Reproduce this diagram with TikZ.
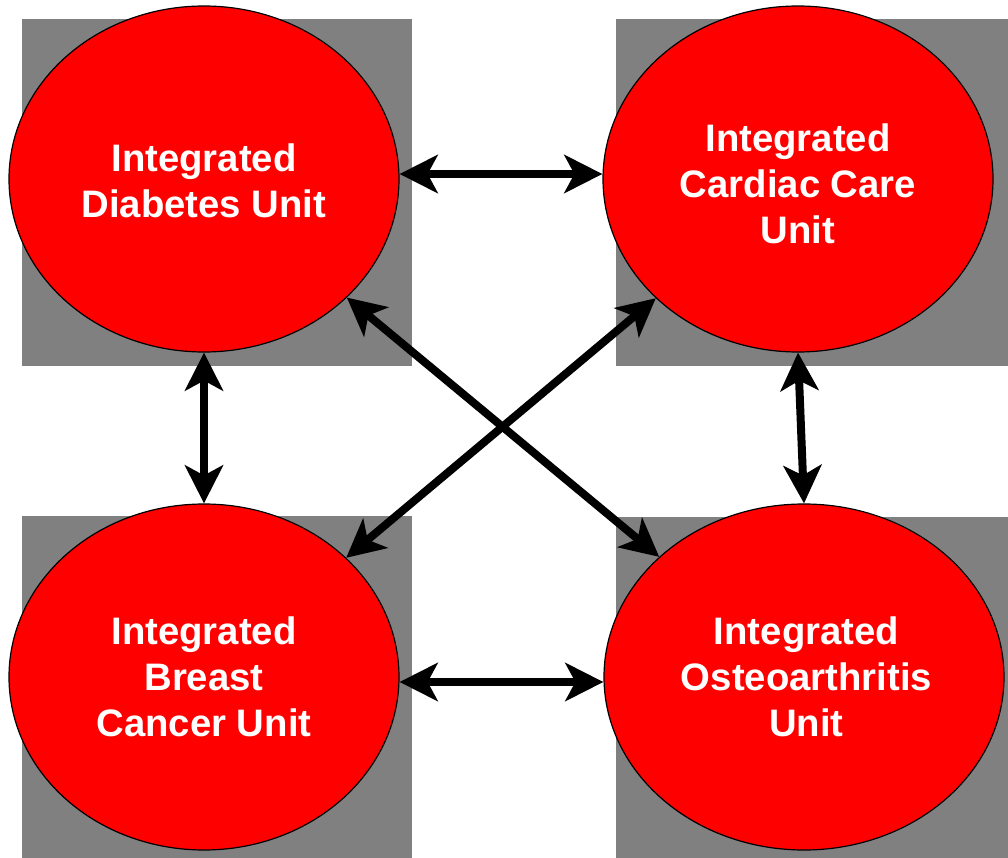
\documentclass[tikz,border=0pt]{standalone}
\usepackage{fontspec}
\setmainfont{Liberation Sans}
\usetikzlibrary{arrows.meta,shapes.geometric}
\definecolor{boxgray}{HTML}{808080}
\definecolor{unitred}{HTML}{FF0000}
\tikzset{
  bg/.style={fill=boxgray, draw=none},
  unittext/.style={text=white, align=center,
    font=\fontsize{38.3pt}{45.7pt}\selectfont\bfseries},
  unit/.style={ellipse, draw=black, line width=1.2pt, fill=unitred, inner sep=0pt,
    minimum width=390pt, minimum height=346pt, unittext},
  link/.style={line width=8pt, black, {Stealth[length=38pt,width=38pt,inset=10pt]}-{Stealth[length=38pt,width=38pt,inset=10pt]}}
}
\begin{document}
\begin{tikzpicture}[x=1pt,y=1pt]
\useasboundingbox (0,0) rectangle (1008,-858);
\clip (0,0) rectangle (1008,-858);
\fill[white] (0,0) rectangle (1008,-858);
% gray backgrounds
\path[bg] (22,-19) rectangle (412,-366);
\path[bg] (616,-19) rectangle (1008,-366);
\path[bg] (22,-516) rectangle (412,-858);
\path[bg] (616,-517) rectangle (1008,-858);
% units
\node[unit, label={[unittext, inner sep=0pt, yshift=-2pt]center:Integrated\\Diabetes Unit}] (TL) at (204,-179) {};
\node[unit, label={[unittext, inner sep=0pt, yshift=-5pt]center:Integrated\\Cardiac Care\\Unit}] (TR) at (798,-179) {};
\node[unit] (BL) at (204,-677) {Integrated\\Breast\\Cancer Unit};
\node[unit, minimum width=400pt] (BR) at (804,-677) {\hspace*{5pt}Integrated\\\hspace*{5pt}Osteoarthritis\\\hspace*{5pt}Unit};
% connectors
\draw[link] ([yshift=5pt]TL.east) -- ([yshift=5pt]TR.west);
\draw[link] ([yshift=-5pt]BL.east) -- ([yshift=-5pt]BR.west);
\draw[link] (TL.south) -- (BL.north);
\draw[link] (TR.south) -- (BR.north);
\draw[link] (TL) -- (BR);
\draw[link] (TR) -- (BL);
\end{tikzpicture}
\end{document}
